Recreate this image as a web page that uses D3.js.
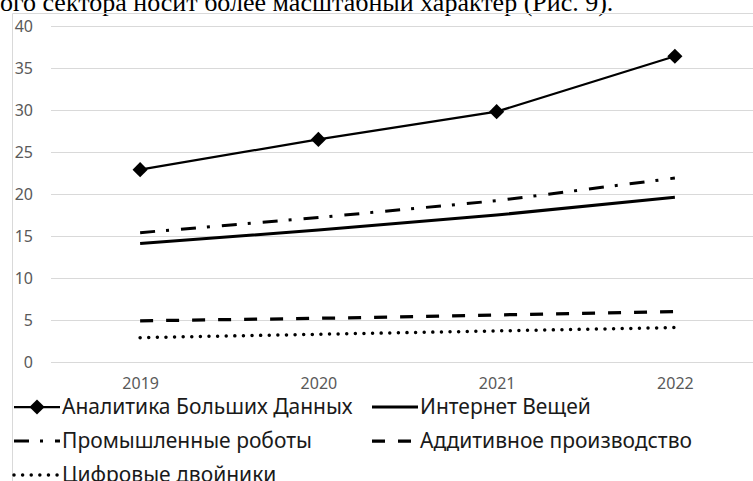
<!DOCTYPE html>
<meta charset="utf-8">
<script src="https://d3js.org/d3.v7.min.js"></script>
<style>
  body { margin: 0; background: #fff; }
  svg { display: block; }
</style>
<div id="chart"></div>
<script>
// data
var years = ["2019", "2020", "2021", "2022"];
var analytics = [22.9, 26.5, 29.8, 36.4];
var iot = [14.1, 15.7, 17.5, 19.6];
var robots = [15.4, 17.2, 19.2, 21.9];
var additive = [4.9, 5.2, 5.6, 6.0];
var twins = [2.9, 3.3, 3.7, 4.1];
var yTicks = [0, 5, 10, 15, 20, 25, 30, 35, 40];
var seriesNames = ["Аналитика Больших Данных", "Интернет Вещей", "Промышленные роботы",
                   "Аддитивное производство", "Цифровые двойники"];

var width = 753, height = 481;

var svg = d3.select("#chart").append("svg")
  .attr("width", width)
  .attr("height", height);

// line of document text above the figure (cut at the top)
svg.append("text")
  .attr("x", 0)
  .attr("y", 11)
  .attr("font-family", "Liberation Serif")
  .attr("font-size", "26px")
  .attr("fill", "#000")
  .text("ого сектора носит более масштабный характер (Рис. 9).");

// chart frame
svg.append("path")
  .attr("d", "M12.5,490 V13.5 H760")
  .attr("fill", "none")
  .attr("stroke", "#d9d9d9")
  .attr("stroke-width", 1);

var x = d3.scalePoint().domain(years).range([51, 764]).padding(0.5);
var y = d3.scaleLinear().domain([0, 40]).range([362, 26]);

// gridlines
svg.append("g")
  .selectAll("line")
  .data(yTicks)
  .enter().append("line")
  .attr("x1", 51).attr("x2", 764)
  .attr("y1", function (d) { return Math.round(y(d)) + 0.5; })
  .attr("y2", function (d) { return Math.round(y(d)) + 0.5; })
  .attr("stroke", "#d9d9d9")
  .attr("stroke-width", 1);

// y axis labels
var yAxis = svg.append("g")
  .attr("transform", "translate(33,0)")
  .call(d3.axisLeft(y).tickValues(yTicks).tickSize(0).tickPadding(0));
yAxis.select(".domain").remove();
yAxis.selectAll("text")
  .attr("font-family", "Noto Sans")
  .attr("font-size", "16px")
  .attr("fill", "#595959");

// x axis labels
var xAxis = svg.append("g")
  .attr("transform", "translate(0,378)")
  .call(d3.axisBottom(x).tickSize(0).tickPadding(0));
xAxis.select(".domain").remove();
xAxis.selectAll("text")
  .attr("font-family", "Noto Sans")
  .attr("font-size", "16px")
  .attr("fill", "#595959");

var styles = [
  {data: analytics, w: 2.25, dash: null, cap: "butt", marker: true},
  {data: iot, w: 3, dash: null, cap: "butt"},
  {data: robots, w: 3, dash: "15,11,3,12", cap: "butt"},
  {data: additive, w: 3.25, dash: "13,13", cap: "butt"},
  {data: twins, w: 3.5, dash: "0.01,8.6", cap: "round"}
];

var line = d3.line()
  .x(function (d, i) { return x(years[i]); })
  .y(function (d) { return y(d); });

var diamond = d3.symbol().type(d3.symbolSquare).size(115);

// draw back to front so the marker line sits on top
styles.slice().reverse().forEach(function (s) {
  svg.append("path")
    .datum(s.data)
    .attr("d", line)
    .attr("fill", "none")
    .attr("stroke", "#000")
    .attr("stroke-width", s.w)
    .attr("stroke-dasharray", s.dash)
    .attr("stroke-linecap", s.cap);
  if (s.marker) {
    svg.append("g").selectAll("path")
      .data(s.data)
      .enter().append("path")
      .attr("d", diamond)
      .attr("transform", function (d, i) {
        return "translate(" + x(years[i]) + "," + y(d) + ") rotate(45)";
      })
      .attr("fill", "#000");
  }
});

// legend
var legendPos = [
  {lx: 14, ly: 407}, {lx: 372, ly: 407},
  {lx: 14, ly: 441}, {lx: 372, ly: 441},
  {lx: 14, ly: 475}
];
var legend = svg.append("g");
styles.forEach(function (s, i) {
  var p = legendPos[i];
  var g = legend.append("g").attr("transform", "translate(" + p.lx + "," + p.ly + ")");
  g.append("line")
    .attr("x1", 0).attr("x2", 46)
    .attr("y1", 0).attr("y2", 0)
    .attr("stroke", "#000")
    .attr("stroke-width", s.w)
    .attr("stroke-dasharray", s.dash)
    .attr("stroke-linecap", s.cap);
  if (s.marker) {
    g.append("path")
      .attr("d", diamond)
      .attr("transform", "translate(23,0) rotate(45)")
      .attr("fill", "#000");
  }
  g.append("text")
    .attr("x", 48)
    .attr("y", 0)
    .attr("dy", "0.35em")
    .attr("font-family", "Noto Sans")
    .attr("font-size", "21px")
    .attr("fill", "#1a1a1a")
    .text(seriesNames[i]);
});
</script>
